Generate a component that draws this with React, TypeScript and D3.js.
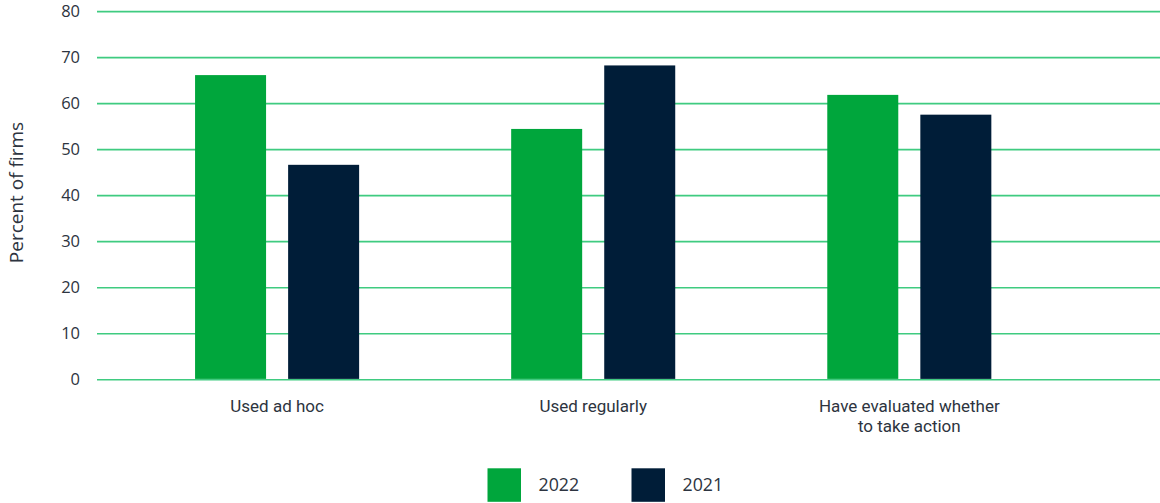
import React from "react";
import * as d3 from "d3";

const categories: string[][] = [
  ["Used ad hoc"],
  ["Used regularly"],
  ["Have evaluated whether", "to take action"],
];
const seriesNames = ["2022", "2021"];
const values2022 = [66.2, 54.5, 61.9];
const values2021 = [46.7, 68.3, 57.6];
const yTicks = [0, 10, 20, 30, 40, 50, 60, 70, 80];
const colors = ["#00a63c", "#001d38"];

const W = 1160;
const H = 503;
const FONT = "'Open Sans', sans-serif";
const LABEL_FONT = "Roboto, sans-serif";
const TEXT = "#2d3440";

export default function App() {
  const y = d3.scaleLinear().domain([0, 80]).range([379.7, 11.6]);
  const catKeys = categories.map((c) => c.join(" "));
  const x0 = d3
    .scaleBand<string>()
    .domain(catKeys)
    .range([119.2, 1067.2])
    .paddingInner(0.481)
    .paddingOuter(0.24);
  const x1 = d3
    .scaleBand<string>()
    .domain(seriesNames)
    .range([0, x0.bandwidth()])
    .paddingInner(0.237);
  const series = [values2022, values2021];

  return (
    <svg
      width={W}
      height={H}
      style={{ position: "absolute", left: 0, top: 0, display: "block" }}
    >
      <rect width={W} height={H} fill="#fff" />
      {yTicks.map((t) => (
        <g key={t}>
          <line
            x1={97}
            x2={W}
            y1={y(t)}
            y2={y(t)}
            stroke="#3fcb80"
            strokeWidth={1.6}
          />
          <text
            x={80}
            y={y(t)}
            dy="0.35em"
            textAnchor="end"
            fontFamily={FONT}
            fontSize={16.5}
            fill={TEXT}
          >
            {t}
          </text>
        </g>
      ))}
      {catKeys.map((k, i) => (
        <g key={k} transform={`translate(${x0(k)},0)`}>
          {seriesNames.map((s, j) => (
            <rect
              key={s}
              x={x1(s)}
              width={x1.bandwidth()}
              y={y(series[j][i])}
              height={y(0) - y(series[j][i]) - 0.8}
              fill={colors[j]}
            />
          ))}
          {categories[i].map((line, li) => (
            <text
              key={li}
              x={x0.bandwidth() / 2}
              y={411.8 + li * 20}
              textAnchor="middle"
              fontFamily={LABEL_FONT}
              fontSize={17}
              fill={TEXT}
            >
              {line}
            </text>
          ))}
        </g>
      ))}
      <text
        transform="translate(23,192.5) rotate(-90)"
        textAnchor="middle"
        fontFamily={FONT}
        fontSize={19}
        fill={TEXT}
      >
        Percent of firms
      </text>
      {seriesNames.map((s, j) => (
        <g key={s} transform={`translate(${487.5 + j * 144},468.3)`}>
          <rect width={33.5} height={33.5} fill={colors[j]} />
          <text
            x={51}
            y={16.8}
            dy="0.35em"
            fontFamily={FONT}
            fontSize={17.8}
            fill={TEXT}
          >
            {s}
          </text>
        </g>
      ))}
    </svg>
  );
}
